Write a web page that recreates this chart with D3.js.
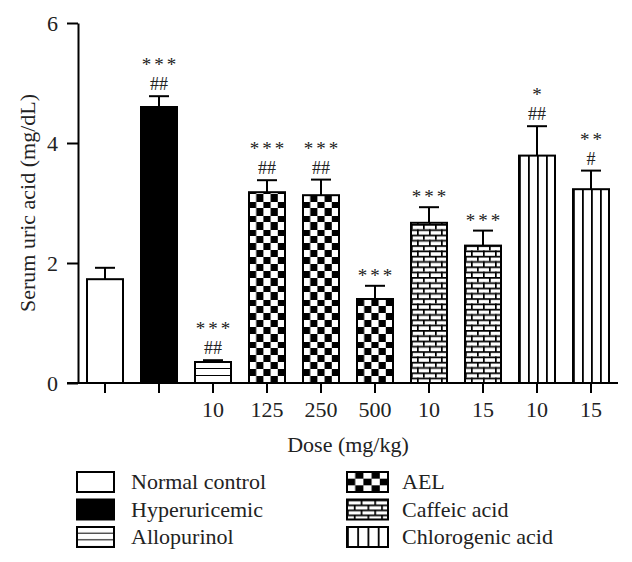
<!DOCTYPE html>
<html>
<head>
<meta charset="utf-8">
<script src="https://cdn.jsdelivr.net/npm/d3@7"></script>
<style>
  html, body { margin: 0; padding: 0; background: #fff; }
  text { font-family: "Liberation Serif", "DejaVu Serif", serif; fill: #222; }
</style>
</head>
<body>
<script>
// ---- data ----
const groups = ["Normal control", "Hyperuricemic", "Allopurinol", "AEL", "AEL", "AEL",
                "Caffeic acid", "Caffeic acid", "Chlorogenic acid", "Chlorogenic acid"];
const doses = ["", "", "10", "125", "250", "500", "10", "15", "10", "15"];
const means = [1.73, 4.60, 0.35, 3.18, 3.13, 1.40, 2.67, 2.29, 3.79, 3.23];
const sems  = [0.19, 0.18, 0.03, 0.20, 0.26, 0.22, 0.26, 0.25, 0.49, 0.31];
const stars  = ["", "***", "***", "***", "***", "***", "***", "***", "*", "**"];
const hashes = ["", "##", "##", "##", "##", "", "", "", "##", "#"];
const yTicks = [0, 2, 4, 6];
const legendNames = ["Normal control", "Hyperuricemic", "Allopurinol", "AEL", "Caffeic acid", "Chlorogenic acid"];
const fills = {
  "Normal control": "white", "Hyperuricemic": "black", "Allopurinol": "hlines",
  "AEL": "checker", "Caffeic acid": "brick", "Chlorogenic acid": "vlines"
};

const W = 632, H = 562;
const FS = 22;
const svg = d3.select("body").append("svg").attr("width", W).attr("height", H);
const defs = svg.append("defs");

const x = d3.scaleBand().domain(d3.range(means.length)).range([78, 618])
  .paddingInner(1 / 3).paddingOuter(1 / 6);
const y = d3.scaleLinear().domain([0, 6]).range([383, 23]);

// pattern builder: ox, oy = anchor (left, bottom) ; w, h = box size
function makePattern(id, type, ox, oy, w, h, legend) {
  let pw, ph;
  const p = defs.append("pattern").attr("id", id).attr("patternUnits", "userSpaceOnUse");
  if (type === "checker") {
    const cw = w / 5, ch = legend ? h / 3 : 7;
    pw = 2 * cw; ph = 2 * ch;
    p.append("rect").attr("width", pw).attr("height", ph).attr("fill", "white");
    p.append("rect").attr("x", 0).attr("y", 0).attr("width", cw).attr("height", ch).attr("fill", "black");
    p.append("rect").attr("x", cw).attr("y", ch).attr("width", cw).attr("height", ch).attr("fill", "black");
  } else if (type === "hlines") {
    const s = legend ? h / 3 : 7;
    pw = 10; ph = s;
    p.append("rect").attr("width", pw).attr("height", ph).attr("fill", "white");
    p.append("rect").attr("x", 0).attr("y", ph - 1).attr("width", pw).attr("height", 2).attr("fill", "black");
    p.append("rect").attr("x", 0).attr("y", -1).attr("width", pw).attr("height", 1).attr("fill", "black");
  } else if (type === "vlines") {
    const s = w / 4;
    pw = s; ph = 10;
    p.append("rect").attr("width", pw).attr("height", ph).attr("fill", "white");
    p.append("rect").attr("x", 0).attr("y", 0).attr("width", 1.8).attr("height", ph).attr("fill", "black");
  } else if (type === "brick") {
    const bw = w / 3, rh = legend ? h / 4 : 5.3;
    pw = bw; ph = 2 * rh;
    p.append("rect").attr("width", pw).attr("height", ph).attr("fill", "white");
    p.append("rect").attr("x", 0).attr("y", 0).attr("width", pw).attr("height", 1.7).attr("fill", "black");
    p.append("rect").attr("x", 0).attr("y", rh).attr("width", pw).attr("height", 1.7).attr("fill", "black");
    p.append("rect").attr("x", 0).attr("y", 0).attr("width", 1.7).attr("height", rh).attr("fill", "black");
    p.append("rect").attr("x", bw / 2).attr("y", rh).attr("width", 1.7).attr("height", rh).attr("fill", "black");
  }
  p.attr("width", pw).attr("height", ph).attr("x", ox).attr("y", oy);
  return "url(#" + id + ")";
}

function fillFor(type, id, ox, oy, w, h, legend) {
  if (type === "white") return "white";
  if (type === "black") return "black";
  return makePattern(id, type, ox, oy, w, h, legend);
}

// ---- bars ----
const bars = svg.append("g");
means.forEach((m, i) => {
  const bx = x(i), bw = x.bandwidth();
  const top = y(m), base = y(0);
  const type = fills[groups[i]];
  const f = fillFor(type, "pat" + i, bx, base, bw, base - top, false);
  bars.append("rect").attr("x", bx).attr("y", top).attr("width", bw).attr("height", base - top)
    .attr("fill", f).attr("stroke", "black").attr("stroke-width", 2);
  // error bar
  const cx = bx + bw / 2, et = y(m + sems[i]);
  bars.append("line").attr("x1", cx).attr("x2", cx).attr("y1", top).attr("y2", et)
    .attr("stroke", "black").attr("stroke-width", 2);
  bars.append("line").attr("x1", cx - 10).attr("x2", cx + 10).attr("y1", et).attr("y2", et)
    .attr("stroke", "black").attr("stroke-width", 2);
  // annotations
  let line = 0;
  if (hashes[i]) {
    bars.append("text").attr("x", cx).attr("y", et - 6).attr("text-anchor", "middle")
      .attr("font-size", 18).text(hashes[i]);
    line = 1;
  }
  if (stars[i]) {
    bars.append("text").attr("x", cx + 1.5).attr("y", et - 4 - line * 21).attr("text-anchor", "middle")
      .attr("font-size", 19).attr("letter-spacing", "3px").text(stars[i]);
  }
});

// ---- axes ----
const yAxis = svg.append("g").attr("transform", `translate(${x.range()[0]},0)`)
  .call(d3.axisLeft(y).tickValues(yTicks).tickSize(11).tickSizeOuter(0).tickPadding(9).tickFormat(d3.format("d")));
yAxis.selectAll("path, line").attr("stroke", "black").attr("stroke-width", 2);
yAxis.selectAll("text").attr("font-size", FS).attr("font-family", "Liberation Serif").attr("fill", "#222");

const xAxis = svg.append("g").attr("transform", `translate(0,${y(0)})`)
  .call(d3.axisBottom(x).tickSize(10).tickSizeOuter(0).tickPadding(8).tickFormat(i => doses[i]));
xAxis.select(".domain").remove();
xAxis.selectAll("line").attr("stroke", "black").attr("stroke-width", 2);
xAxis.selectAll("text").attr("font-size", FS).attr("font-family", "Liberation Serif").attr("fill", "#222");
svg.append("line").attr("x1", x.range()[0] - 11).attr("x2", x.range()[1])
  .attr("y1", y(0)).attr("y2", y(0)).attr("stroke", "black").attr("stroke-width", 2);

// axis titles
svg.append("text").attr("transform", `translate(27,${(y(0) + y(6)) / 2}) rotate(-90)`)
  .attr("text-anchor", "middle").attr("dy", "0.35em").attr("font-size", FS).text("Serum uric acid (mg/dL)");
svg.append("text").attr("x", (x.range()[0] + x.range()[1]) / 2).attr("y", 452)
  .attr("text-anchor", "middle").attr("font-size", FS).text("Dose (mg/kg)");

// ---- legend ----
const leg = svg.append("g");
legendNames.forEach((name, k) => {
  const col = Math.floor(k / 3), row = k % 3;
  const bx = col === 0 ? 77 : 347;
  const bw = col === 0 ? 37 : 41, bh = 20;
  const by = 472 + row * 27.5;
  const f = fillFor(fills[name], "leg" + k, bx, by + bh, bw, bh, true);
  leg.append("rect").attr("x", bx).attr("y", by).attr("width", bw).attr("height", bh)
    .attr("fill", f).attr("stroke", "black").attr("stroke-width", 2);
  leg.append("text").attr("x", col === 0 ? 131 : 402).attr("y", by + 17)
    .attr("font-size", FS).text(name);
});
</script>
</body>
</html>
